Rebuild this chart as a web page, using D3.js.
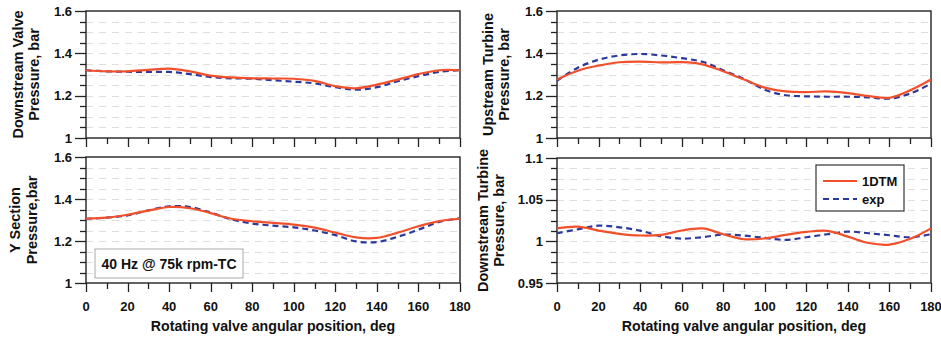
<!DOCTYPE html>
<html>
<head>
<meta charset="utf-8">
<script src="https://cdn.jsdelivr.net/npm/d3@7"></script>
<style>
  body { margin: 0; background: #fff; }
  svg { display: block; font-family: "Liberation Sans", Arial, sans-serif; }
</style>
</head>
<body>
<script>
// rotating valve angle, deg
const angles = [0, 10, 20, 30, 40, 50, 60, 70, 80, 90, 100, 110, 120, 130, 140, 150, 160, 170, 180];

// downstream valve
const dvModel = [1.32, 1.315, 1.315, 1.322, 1.328, 1.315, 1.295, 1.286, 1.282, 1.281, 1.28, 1.27, 1.245, 1.235, 1.252, 1.276, 1.302, 1.32, 1.32];
const dvExp   = [1.32, 1.315, 1.313, 1.312, 1.312, 1.302, 1.288, 1.282, 1.28, 1.273, 1.266, 1.258, 1.24, 1.228, 1.24, 1.268, 1.292, 1.312, 1.321];

// upstream turbine
const utModel = [1.276, 1.318, 1.342, 1.358, 1.361, 1.357, 1.358, 1.348, 1.315, 1.276, 1.238, 1.22, 1.217, 1.22, 1.212, 1.198, 1.19, 1.225, 1.276];
const utExp   = [1.271, 1.332, 1.37, 1.39, 1.397, 1.39, 1.377, 1.36, 1.32, 1.279, 1.228, 1.202, 1.197, 1.195, 1.195, 1.192, 1.186, 1.21, 1.257];

// Y section
const ysModel = [1.306, 1.311, 1.325, 1.345, 1.362, 1.356, 1.333, 1.306, 1.294, 1.286, 1.278, 1.264, 1.24, 1.217, 1.215, 1.24, 1.27, 1.295, 1.306];
const ysExp   = [1.306, 1.311, 1.322, 1.346, 1.365, 1.362, 1.335, 1.303, 1.283, 1.273, 1.265, 1.25, 1.228, 1.198, 1.195, 1.22, 1.254, 1.291, 1.308];

// downstream turbine
const dtModel = [1.0156, 1.0176, 1.0129, 1.009, 1.007, 1.0077, 1.013, 1.0155, 1.0085, 1.0025, 1.0035, 1.0077, 1.0113, 1.0125, 1.0057, 0.998, 0.9961, 1.003, 1.0156];
const dtExp   = [1.0097, 1.0144, 1.0188, 1.0168, 1.0129, 1.0062, 1.0033, 1.005, 1.0081, 1.0069, 1.0041, 1.0017, 1.0049, 1.0085, 1.0117, 1.0097, 1.0073, 1.0049, 1.0085];

const xMajor = [0, 20, 40, 60, 80, 100, 120, 140, 160, 180];
const yTicksBar = [1, 1.2, 1.4, 1.6];
const yTicksDt = [0.95, 1, 1.05, 1.1];
const seriesNames = ["1DTM", "exp"];

const red = "#f2502a", blue = "#2b389c";

const W = 941, H = 340;
const svg = d3.select("body").append("svg").attr("width", W).attr("height", H);

const panels = [
  {box: [86, 460, 11, 138], dom: [1, 1.6], ticks: yTicksBar, step: 0.1, fmt: d3.format(".1~f"),
   title: ["Downstream Valve", "Pressure, bar"], tx: [23, 39], model: dvModel, exp: dvExp, xlab: false},
  {box: [557, 931, 11, 138], dom: [1, 1.6], ticks: yTicksBar, step: 0.1, fmt: d3.format(".1~f"),
   title: ["Upstream Turbine", "Pressure, bar"], tx: [493, 509], model: utModel, exp: utExp, xlab: false},
  {box: [86, 460, 157, 283], dom: [1, 1.6], ticks: yTicksBar, step: 0.1, fmt: d3.format(".1~f"),
   title: ["Y Section", "Pressure,bar"], tx: [20, 37], model: ysModel, exp: ysExp, xlab: true},
  {box: [557, 931, 158, 283], dom: [0.95, 1.1], ticks: yTicksDt, step: 0.025, fmt: d3.format(".2~f"),
   title: ["Downstream Turbine", "Pressure, bar"], tx: [488, 504], model: dtModel, exp: dtExp, xlab: true}
];

panels.forEach(p => {
  const [x0, x1, y0, y1] = p.box;
  const x = d3.scaleLinear().domain([0, 180]).range([x0, x1]);
  const y = d3.scaleLinear().domain(p.dom).range([y1, y0]);
  const g = svg.append("g");

  // grid at every major and minor y step
  const grid = d3.range(p.dom[0], p.dom[1] + 1e-9, p.step / 2).filter(v => v > p.dom[0] + 1e-9 && v < p.dom[1] - 1e-9);
  g.selectAll(".grid").data(grid).join("line")
      .attr("x1", x0).attr("x2", x1)
      .attr("y1", d => Math.round(y(d)) + 0.5).attr("y2", d => Math.round(y(d)) + 0.5)
      .attr("stroke", "#dedede").attr("stroke-dasharray", "7,6");

  // y ticks
  const yMinor = grid.filter(v => !p.ticks.some(t => Math.abs(t - v) < 1e-9));
  g.selectAll(".ymaj").data(p.ticks).join("line")
      .attr("x1", x0 - 11).attr("x2", x0)
      .attr("y1", d => Math.round(y(d)) + 0.5).attr("y2", d => Math.round(y(d)) + 0.5)
      .attr("stroke", "#222").attr("stroke-width", 1.3);
  g.selectAll(".ymin").data(yMinor).join("line")
      .attr("x1", x0 - 6).attr("x2", x0)
      .attr("y1", d => Math.round(y(d)) + 0.5).attr("y2", d => Math.round(y(d)) + 0.5)
      .attr("stroke", "#222").attr("stroke-width", 1.3);
  g.selectAll(".ylab").data(p.ticks).join("text")
      .attr("x", x0 - 14).attr("y", d => y(d)).attr("dy", "0.36em")
      .attr("text-anchor", "end").attr("font-size", 13).attr("font-weight", "bold")
      .attr("fill", "#111").text(p.fmt);

  // x ticks (every 10 deg, longer every 20)
  g.selectAll(".xt").data(angles).join("line")
      .attr("x1", d => Math.round(x(d)) + 0.5).attr("x2", d => Math.round(x(d)) + 0.5)
      .attr("y1", y1).attr("y2", d => y1 + (d % 20 === 0 ? 9 : 6))
      .attr("stroke", "#222").attr("stroke-width", 1.3);
  if (p.xlab) {
    g.selectAll(".xl").data(xMajor).join("text")
        .attr("x", d => x(d)).attr("y", y1 + 28)
        .attr("text-anchor", "middle").attr("font-size", 13).attr("font-weight", "bold")
        .attr("fill", "#111").text(d => d);
    g.append("text")
        .attr("x", (x0 + x1) / 2).attr("y", 331)
        .attr("text-anchor", "middle").attr("font-size", 14.2).attr("font-weight", "bold")
        .attr("fill", "#111").text("Rotating valve angular position, deg");
  }

  // frame
  g.append("rect").attr("x", x0).attr("y", y0).attr("width", x1 - x0).attr("height", y1 - y0)
      .attr("fill", "none").attr("stroke", "#222").attr("stroke-width", 1.4);

  // axis title, two rotated lines
  p.title.forEach((t, i) => {
    g.append("text")
        .attr("transform", `translate(${p.tx[i]},${(y0 + y1) / 2}) rotate(-90)`)
        .attr("text-anchor", "middle").attr("font-size", 14.5).attr("font-weight", "bold")
        .attr("fill", "#111").text(t);
  });

  const line = d3.line().x((d, i) => x(angles[i])).y(d => y(d)).curve(d3.curveCatmullRom.alpha(0.5));
  g.append("path").attr("d", line(p.exp)).attr("fill", "none")
      .attr("stroke", blue).attr("stroke-width", 2.2).attr("stroke-dasharray", "6,4");
  g.append("path").attr("d", line(p.model)).attr("fill", "none")
      .attr("stroke", red).attr("stroke-width", 2.2);
});

// legend in the downstream turbine panel
const leg = svg.append("g").attr("transform", "translate(816,165)");
leg.append("rect").attr("width", 88).attr("height", 46)
    .attr("fill", "#fff").attr("stroke", "#333").attr("stroke-width", 1.2);
[red, blue].forEach((c, i) => {
  leg.append("line").attr("x1", 7).attr("x2", 41).attr("y1", 16 + i * 18).attr("y2", 16 + i * 18)
      .attr("stroke", c).attr("stroke-width", 2)
      .attr("stroke-dasharray", i === 1 ? "6,4" : null);
  leg.append("text").attr("x", 46).attr("y", 16 + i * 18).attr("dy", "0.36em")
      .attr("font-size", 13).attr("font-weight", "bold").attr("fill", "#111").text(seriesNames[i]);
});

// operating point note
const note = svg.append("g").attr("transform", "translate(95,249)");
note.append("rect").attr("width", 148).attr("height", 29)
    .attr("fill", "#fff").attr("stroke", "#aaa").attr("stroke-width", 1);
note.append("text").attr("x", 74).attr("y", 15).attr("dy", "0.36em").attr("text-anchor", "middle")
    .attr("font-size", 14).attr("font-weight", "bold").attr("fill", "#111").text("40 Hz @ 75k rpm-TC");
</script>
</body>
</html>
